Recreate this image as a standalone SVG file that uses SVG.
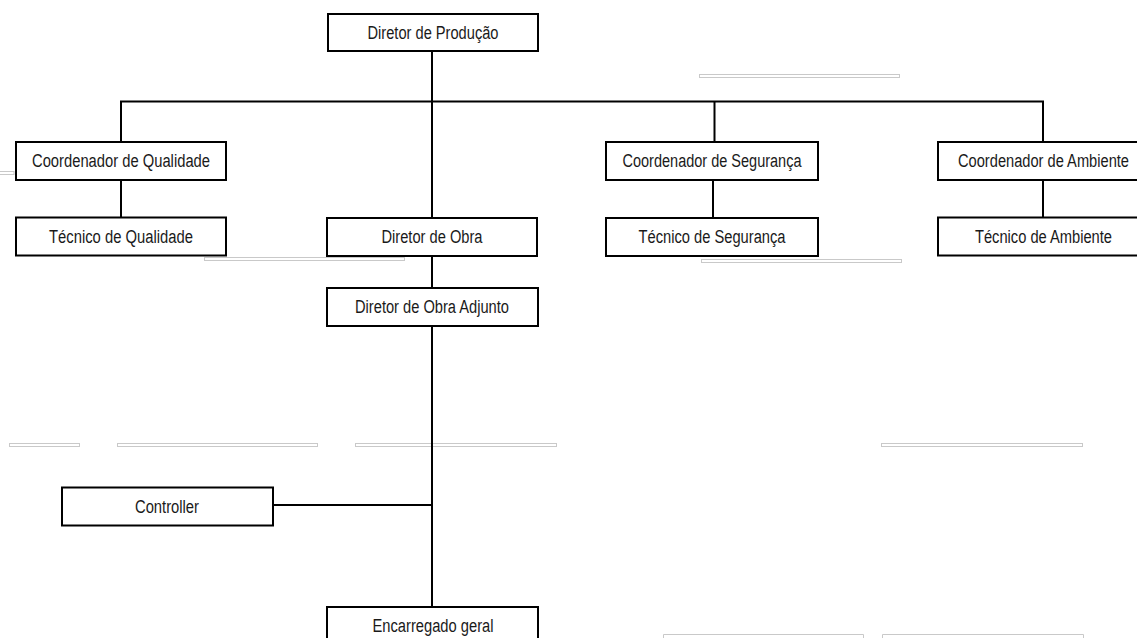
<svg xmlns="http://www.w3.org/2000/svg" width="1137" height="638" viewBox="0 0 1137 638">
<style>
.box{fill:#fff;stroke:#000;stroke-width:2}
.lbl{font-family:"Liberation Sans Narrow","Arial Narrow","Liberation Sans",Arial,sans-serif;font-size:18px;fill:#1a1a1a;text-anchor:middle}
.con{stroke:#000;stroke-width:2;fill:none}
.faint{fill:none;stroke:#c9c9c9;stroke-width:1}
</style>
<rect width="1137" height="638" fill="#fff"/>
<g id="faint">
<rect class="faint" x="699.5" y="74.5" width="200" height="3"/>
<rect class="faint" x="-1" y="171.5" width="15" height="3"/>
<rect class="faint" x="204.5" y="257.5" width="200" height="3"/>
<rect class="faint" x="701.5" y="259.5" width="200" height="3"/>
<rect class="faint" x="9.5" y="443.5" width="70" height="3"/>
<rect class="faint" x="117.5" y="443.5" width="200" height="3"/>
<rect class="faint" x="355.5" y="443.5" width="201" height="3"/>
<rect class="faint" x="881.5" y="443.5" width="201" height="3"/>
<path class="faint" d="M663.5,639 V634.5 H863.5 V639 M882.5,639 V634.5 H1083.5 V639"/>
</g>
<g id="connectors">
<path class="con" d="M432,51 V607"/>
<path class="con" d="M121,142 V101.5 H1043 V142"/>
<path class="con" d="M714.5,101.5 V142"/>
<path class="con" d="M121,180 V217.5"/>
<path class="con" d="M713,180 V217.5"/>
<path class="con" d="M1043,180 V217.5"/>
<path class="con" d="M273,505 H432"/>
</g>
<g id="n-prod"><rect class="box" x="328" y="14" width="210" height="37"/><text class="lbl" x="433" y="38.8" textLength="131" lengthAdjust="spacingAndGlyphs">Diretor de Produção</text></g>
<g id="n-coordq"><rect class="box" x="16" y="142" width="210" height="38"/><text class="lbl" x="121" y="167.4" textLength="178" lengthAdjust="spacingAndGlyphs">Coordenador de Qualidade</text></g>
<g id="n-tecq"><rect class="box" x="16" y="217.5" width="210" height="38"/><text class="lbl" x="121" y="243" textLength="144" lengthAdjust="spacingAndGlyphs">Técnico de Qualidade</text></g>
<g id="n-obra"><rect class="box" x="327" y="218" width="210" height="38"/><text class="lbl" x="432" y="243.4" textLength="101" lengthAdjust="spacingAndGlyphs">Diretor de Obra</text></g>
<g id="n-coords"><rect class="box" x="606" y="142" width="212" height="38"/><text class="lbl" x="712" y="167.4" textLength="179" lengthAdjust="spacingAndGlyphs">Coordenador de Segurança</text></g>
<g id="n-tecs"><rect class="box" x="606" y="218" width="212" height="38"/><text class="lbl" x="712" y="243.4" textLength="147" lengthAdjust="spacingAndGlyphs">Técnico de Segurança</text></g>
<g id="n-coorda"><rect class="box" x="938" y="142" width="212" height="38"/><text class="lbl" x="1043.5" y="167.4" textLength="171" lengthAdjust="spacingAndGlyphs">Coordenador de Ambiente</text></g>
<g id="n-teca"><rect class="box" x="938" y="217.5" width="212" height="38"/><text class="lbl" x="1043.5" y="243" textLength="137" lengthAdjust="spacingAndGlyphs">Técnico de Ambiente</text></g>
<g id="n-adj"><rect class="box" x="327" y="288" width="211" height="38"/><text class="lbl" x="432" y="313.4" textLength="154" lengthAdjust="spacingAndGlyphs">Diretor de Obra Adjunto</text></g>
<g id="n-ctrl"><rect class="box" x="62" y="487.5" width="211" height="38"/><text class="lbl" x="167" y="512.9" textLength="64" lengthAdjust="spacingAndGlyphs">Controller</text></g>
<g id="n-enc"><rect class="box" x="327" y="607" width="211" height="38"/><text class="lbl" x="433" y="632.4" textLength="121" lengthAdjust="spacingAndGlyphs">Encarregado geral</text></g>
</svg>
